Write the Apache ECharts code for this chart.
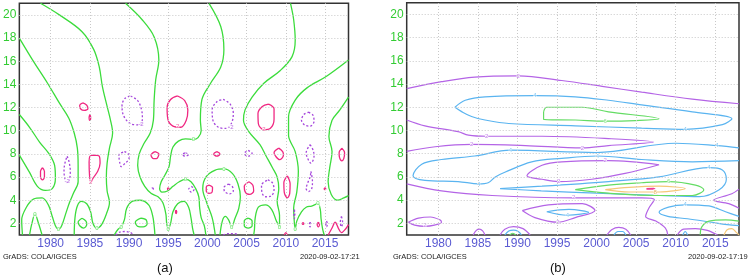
<!DOCTYPE html>
<html><head><meta charset="utf-8">
<script src="https://cdn.jsdelivr.net/npm/echarts@6/dist/echarts.min.js"></script>
<style>html,body{margin:0;padding:0;background:#fff}#c{width:749px;height:279px}</style>
</head><body><div id="c"></div>
<script>
// ---------- ticks ----------
const yearTicks = [1980, 1985, 1990, 1995, 2000, 2005, 2010, 2015];
const periodTicks = [2, 4, 6, 8, 10, 12, 14, 16, 18, 20];

// ---------- panel (a): zero contours (green) ----------
const a0_1 = [[1976,18],[1977.7,16.1],[1979.6,14.1],[1981.1,12.4],[1982.3,11.1],[1983,9.8],[1983.4,8.5],[1983.5,7],[1983.5,5.6],[1982.9,4.6],[1982.4,3.8],[1981.9,2.8],[1981.4,1.8],[1981,1.5],[1980.6,1.8],[1980.2,2.6],[1979.7,3.6],[1978.9,4.2],[1977.8,4.1],[1976.9,3.4],[1976.3,2.3],[1976.4,1]];
const a0_2 = [[1976,11.4],[1977.3,10.3],[1978.6,9],[1979.8,8],[1980.5,7],[1980.6,5.9],[1980.2,5.0],[1979.3,4.85],[1978.3,5.2],[1977.3,6.4],[1976,7.9]];
const a0_3 = [[1977.3,1],[1977.6,2.0],[1978,2.8],[1978.4,2.1],[1978.9,1]];
const a0_4 = [[1978.7,21],[1981.1,20],[1984,18.55],[1985.5,17],[1986.2,15.5],[1986.6,13.8],[1987.2,12.1],[1987.6,11],[1987.9,9.8],[1987.5,8.5],[1987.2,7.2],[1987.1,6],[1987.2,4.8],[1987.5,3.8],[1987.1,2.8],[1986.5,1.9],[1985.9,1.6],[1985.4,2],[1985.1,3],[1984.6,3.7],[1983.9,3.9],[1983.4,3.5],[1983.1,2.5],[1983,1]];
const a0_5 = [[1984,2.45],[1984.5,2.2],[1984.6,1.9],[1984.2,1.6],[1983.7,1.8],[1983.5,2.1],[1984,2.45]];
const a0_6 = [[1988.1,1],[1988.6,1.5],[1989,1.7],[1989.4,2.3],[1989.7,3.3],[1990.4,3.9],[1991.4,4.0],[1992.5,3.6],[1993,2.7],[1993.2,1.8],[1993.3,1]];
const a0_7 = [[1991.5,2.45],[1992.2,2.3],[1992.3,1.95],[1991.8,1.7],[1991.1,1.75],[1990.8,2.1],[1991.5,2.45]];
const a0_8 = [[1989.55,21],[1991.7,19.56],[1993.2,18.1],[1993.8,16.1],[1993.4,14.4],[1993.2,12.65],[1993.1,10.9],[1992.7,9.8],[1991.9,8.9],[1991.3,8.0],[1991.1,7.0],[1991.4,6.0],[1992,5.2],[1992.8,4.6],[1993.7,4.3],[1994.3,3.8],[1994.7,2.8],[1994.8,2.0],[1995,1.5],[1995.3,2.0],[1995.6,3],[1996.2,3.7],[1997,3.9],[1997.6,3.4],[1997.9,2.5],[1998.1,1.6],[1998.3,1]];
const a0_9 = [[2000.2,21],[2001.7,19],[2002.1,17],[2001.7,15.5],[2000.4,14.1],[1999.3,12.7],[1999.1,10.9],[1999.2,10],[1998.8,9.4],[1998.2,9.25],[1997.2,9.3],[1996.3,9.1],[1995.6,8.6],[1995.3,7.8],[1995.1,6.9],[1994.6,6.2],[1994.1,5.6],[1993.9,5.0],[1994.2,4.7],[1994.9,4.8],[1995.6,5.2],[1996.4,5.6],[1997.2,5.8],[1997.9,5.6],[1998.5,5.0],[1998.9,4.3],[1999.0,3.4],[1999.2,2.5],[1999.6,1.8],[1999.8,1]];
const a0_10 = [[2001.0,1],[2000.6,2.5],[1999.9,3.8],[1999.4,5.0],[1999.8,6.0],[2001.0,6.6],[2002.1,6.7],[2003.2,6.3],[2003.9,5.4],[2004.2,4.3],[2004.0,3.3],[2003.5,2.4],[2003.1,1.7],[2002.7,2.3],[2002.3,2.6],[2001.9,2.2],[2001.6,1]];
const a0_11 = [[2010.6,21],[2011,19.6],[2011.2,17.8],[2010.8,16.4],[2009.3,15.2],[2007.2,14.1],[2005.7,12.9],[2004.8,11.8],[2004.6,10.9],[2005.3,9.9],[2006.7,8.8],[2007.5,7.8],[2008.3,6.8],[2008.9,6.0],[2009.1,5.0],[2008.9,3.9],[2009.2,2.7],[2009.2,1.7],[2008.8,2.2],[2008.2,3.2],[2007.4,3.6],[2006.5,3.4],[2006.1,2.5],[2006,1.5],[2005.9,1]];
const a0_12 = [[2005.2,2.45],[2005.7,2.2],[2005.7,1.8],[2005.2,1.6],[2004.7,1.8],[2004.7,2.2],[2005.2,2.45]];
const a0_13 = [[2018,16.1],[2015.2,14.7],[2012.7,13.7],[2011.2,12.65],[2010.35,11.2],[2010.35,9.6],[2011.2,8.2],[2011.6,6.5],[2011.4,4.7],[2011.0,3.3],[2011.1,2.0],[2011.2,1.45],[2011.4,2.2],[2012,3.0],[2012.6,3.4],[2013.3,3.5],[2014.1,3.7],[2014.4,3.2],[2014.5,2.4],[2014.7,1.5],[2014.9,1]];
const a0_14 = [[2018,12.9],[2016.9,11.8],[2015.9,10.9],[2015.5,9.5],[2015.9,8.2],[2015.6,6.8],[2015.4,5.6],[2015.8,4.5],[2016.6,4.0],[2017.4,4.2],[2018,4.4]];

// ---------- panel (a): +2 contours (pink) ----------
const ap_1 = [[1978.95,6.8],[1979.2,6.5],[1979.2,6.0],[1978.95,5.75],[1978.7,6.0],[1978.7,6.5],[1978.95,6.8]];
const ap_2 = [[1984.1,12.4],[1984.6,12.2],[1984.75,11.9],[1984.3,11.75],[1983.8,11.9],[1983.7,12.2],[1984.1,12.4]];
const ap_3 = [[1985,11.4],[1985.1,11.15],[1985,10.9],[1984.9,11.15],[1985,11.4]];
const ap_4 = [[1985.5,7.9],[1986.2,7.8],[1986.3,7.2],[1986,6.5],[1985.4,5.9],[1985.1,5.5],[1984.95,6.2],[1984.9,7.3],[1985,7.8],[1985.5,7.9]];
const ap_5 = [[1993.3,8.2],[1993.8,8.0],[1993.5,7.6],[1993.1,7.6],[1992.8,7.9],[1993.3,8.2]];
const ap_6 = [[1996.2,13.0],[1997.1,12.6],[1997.5,11.8],[1997.3,10.9],[1996.6,10.3],[1995.6,10.4],[1994.95,11.0],[1994.85,12.0],[1995.3,12.7],[1996.2,13.0]];
const ap_7 = [[2001.2,8.2],[2001.6,8.0],[2001.2,7.8],[2000.8,8.0],[2001.2,8.2]];
const ap_8 = [[2009.1,8.5],[2009.6,8.2],[2009.7,7.9],[2009.2,7.5],[2008.7,7.8],[2008.5,8.1],[2009.1,8.5]];
const ap_9 = [[2017.15,8.5],[2017.5,8.1],[2017.4,7.6],[2017.15,7.4],[2016.85,7.7],[2016.8,8.1],[2017.15,8.5]];
const ap_10 = [[2000.2,5.3],[2000.65,5.1],[2000.6,4.7],[2000.2,4.6],[1999.85,4.8],[1999.85,5.15],[2000.2,5.3]];
const ap_11 = [[2005.3,5.6],[2005.8,5.3],[2005.9,4.8],[2005.4,4.5],[2004.8,4.75],[2004.7,5.2],[2005.3,5.6]];
const ap_12 = [[2010.2,6.1],[2010.55,5.4],[2010.5,4.6],[2010.2,4.2],[2009.8,4.7],[2009.75,5.5],[2010.2,6.1]];
const ap_13 = [[2007.8,12.3],[2008.5,11.9],[2008.5,11.0],[2008.0,10.2],[2007.2,10.1],[2006.5,10.6],[2006.45,11.5],[2007,12.1],[2007.8,12.3]];
const ap_14 = [[1995,5.08],[1995.1,5],[1995,4.92],[1994.9,5],[1995,5.08]];
const ap_15 = [[2015,5.08],[2015.1,5],[2015,4.92],[2014.9,5],[2015,5.08]];
const ap_16 = [[1996,3.15],[1996.08,3],[1996,2.85],[1995.92,3],[1996,3.15]];
const ap_17 = [[2012.2,2.08],[2012.3,2],[2012.2,1.92],[2012.1,2],[2012.2,2.08]];
const ap_18 = [[2014.15,2.1],[2014.3,1.9],[2014.15,1.7],[2014,1.9],[2014.15,2.1]];
const ap_19 = [[2015.4,1.0],[2015.9,1.6],[2016.3,2.1],[2016.7,1.6],[2017.1,1.2],[2017.6,1.5],[2018,1.9]];
const ap_20 = [[2009.8,1],[2010,1.2],[2010.2,1]];

// ---------- panel (a): -2 contours (purple, dashed) ----------
const an_1 = [[1982.1,7.8],[1982.35,7.3],[1982.5,6.5],[1982.4,5.8],[1982.1,5.5],[1981.8,5.9],[1981.7,6.6],[1981.85,7.3],[1982.1,7.8]];
const an_2 = [[1990.2,13.0],[1991.1,12.6],[1991.6,11.8],[1991.7,11.0],[1991.3,10.5],[1990.2,10.6],[1989.3,11.3],[1989.1,12.2],[1989.5,12.8],[1990.2,13.0]];
const an_3 = [[2002,12.7],[2002.9,12.3],[2003.3,11.5],[2003.1,10.7],[2002.4,10.2],[2001.4,10.3],[2000.7,10.9],[2000.6,11.8],[2001.2,12.5],[2002,12.7]];
const an_4 = [[2012.9,11.6],[2013.5,11.3],[2013.6,10.8],[2013.1,10.4],[2012.4,10.5],[2012.0,10.9],[2012.3,11.4],[2012.9,11.6]];
const an_5 = [[1989.4,8.2],[1989.9,8.0],[1990,7.6],[1989.5,7.2],[1989.0,6.9],[1988.8,7.3],[1988.7,7.9],[1989.4,8.2]];
const an_6 = [[1997.2,8.1],[1997.6,7.95],[1997.2,7.8],[1996.8,7.95],[1997.2,8.1]];
const an_7 = [[2005.2,8.3],[2005.7,8.05],[2005.2,7.8],[2004.7,8.05],[2005.2,8.3]];
const an_8 = [[2013.1,8.8],[2013.5,8.3],[2013.6,7.8],[2013.2,7.2],[2012.8,7.6],[2012.6,8.1],[2013.1,8.8]];
const an_9 = [[1997.95,5.2],[1998.3,4.95],[1997.95,4.7],[1997.6,4.95],[1997.95,5.2]];
const an_10 = [[2002.7,5.4],[2003.2,5.15],[2003.3,4.8],[2002.8,4.55],[2002.2,4.75],[2002.1,5.1],[2002.7,5.4]];
const an_11 = [[2007.7,5.75],[2008.3,5.5],[2008.5,4.9],[2008.1,4.35],[2007.4,4.3],[2006.95,4.7],[2006.9,5.3],[2007.7,5.75]];
const an_12 = [[2013.2,6.5],[2013.4,5.6],[2013.3,5.0],[2012.9,4.75],[2012.6,5.0],[2012.8,5.5],[2013.1,6.0],[2013.2,6.5]];
const an_13 = [[1993,5.08],[1993.1,5],[1993,4.92],[1992.9,5],[1993,5.08]];
const an_14 = [[2011.1,3.2],[2011.15,2.8],[2011.1,2.4],[2011.05,2.8],[2011.1,3.2]];
const an_15 = [[2013.1,2.1],[2013.2,1.9],[2013.1,1.7],[2013.0,1.9],[2013.1,2.1]];
const an_16 = [[2015.2,2.2],[2015.3,1.95],[2015.2,1.7],[2015.1,1.95],[2015.2,2.2]];
const an_17 = [[2017.1,2.6],[2017.25,2.1],[2017.1,1.7],[2016.95,2.1],[2017.1,2.6]];
const an_18 = [[1988.3,1],[1988.8,1.25],[1989.5,1.3],[1990.2,1.2],[1990.6,1]];
const an_19 = [[2002,1],[2002.6,1.12],[2003.4,1.12],[2004,1]];

// ---------- panel (b) contours ----------
const b2_1 = [[1976,13.6],[1980.4,14.2],[1984.6,14.6],[1990.1,14.7],[1995.6,14.3],[2000.7,13.8],[2005.7,13.3],[2012.1,12.7],[2018,12.3]];
const b2_2 = [[1976,10.9],[1978.3,10.4],[1982.5,9.9],[1983.8,9.6],[1986.1,9.5],[1993.1,9.5],[2001.5,9.3],[2007.2,9.0],[2001.5,8.7],[1998.2,8.5],[1991,8.7],[1984.2,8.8],[1979.6,8.6],[1976,8.2]];
const b2_3 = [[2007.9,7.05],[2001.5,7.4],[1995.6,7.3],[1993.1,7.0],[1991.2,6.1],[1993.1,5.8],[1995.2,5.6],[1999.4,5.8],[2003.6,6.3],[2007.9,7.05]];
const b2_4 = [[1976,5.4],[1980.4,4.8],[1986.8,4.4],[1997.1,4.2],[2005.7,4.2],[2007.3,4.05],[2006.6,3.3],[2006.2,2.6],[2007.5,2.2],[2008.7,1.6],[2009,1]];
const b2_5 = [[1990.6,3.1],[1993.9,3.6],[1998.2,3.7],[1999.8,3.1],[1997.3,2.5],[1995.1,2.1],[1992.2,2.5],[1990.6,3.1]];
const b2_6 = [[1976.2,2.1],[1977.5,2.45],[1979,2.55],[1980.2,2.3],[1980.4,2.1],[1979.5,1.85],[1978.3,1.75],[1977,1.85],[1976.2,2.1]];
const b2_7 = [[1984.4,1],[1984.8,1.4],[1985.2,1.5],[1985.6,1.35],[1985.9,1]];
const b2_8 = [[1987.8,1],[1988.4,1.5],[1989.5,1.72],[1990.7,1.55],[1991.6,1]];
const b2_9 = [[2001.3,1],[2001.9,1.45],[2002.8,1.65],[2003.7,1.5],[2004.3,1]];
const b2_10 = [[2018,4.95],[2017.1,4.55],[2014.8,4.0],[2016.7,3.7],[2018,3.3]];
const b2_11 = [[2010.2,1],[2011,1.5],[2012.5,1.55],[2014,1.4],[2015,1.1],[2015.3,1]];
const b4_1 = [[1982.1,12.0],[1983.4,12.6],[1985.9,12.9],[1992.2,13.0],[1997.3,12.9],[2001.5,12.6],[2005.7,12.2],[2012.1,11.6],[2017.1,11.0],[2015.9,10.5],[2011.2,10.1],[2005.7,10.2],[1997.3,10.4],[1988.9,10.6],[1985.9,10.9],[1984.2,11.2],[1983,11.6],[1982.1,12.0]];
const b4_2 = [[2018,8.5],[2015.2,8.7],[2010,8.9],[2000,8.1],[1989.1,8.3],[1984.6,7.8],[1980.4,7.5],[1977.9,7.1],[1976.8,6.1],[1978.3,5.7],[1982.5,5.6],[1985.1,5.4],[1986.3,5.5],[1987.2,6.0],[1988.4,6.4],[1991.8,7.3],[1995.6,7.6],[2000.1,7.8],[2005.7,7.5],[2012.1,7.3],[2018,7.4]];
const b4_3 = [[1987.8,5.0],[1993.1,5.2],[2001.5,5.6],[2007.9,6.0],[2014.2,6.8],[2015.9,6.6],[2016.4,5.8],[2015.5,4.9],[2013,4.3],[2008,4.4],[2000,4.6],[1993,4.8],[1987.8,5.0]];
const b4_4 = [[1993.7,3.0],[1996.5,3.2],[1999,2.95],[1996.3,2.7],[1993.7,3.0]];
const b4_5 = [[1988.4,1],[1988.9,1.35],[1989.5,1.42],[1990.1,1.3],[1990.5,1]];
const b4_6 = [[2002.2,1],[2002.7,1.3],[2003.3,1.3],[2003.7,1]];
const b4_7 = [[2018,2.6],[2016.3,3.0],[2014.2,3.5],[2011.2,3.6],[2009.1,3.4],[2007.9,2.95],[2009,2.6],[2011.5,2.4],[2014.5,2.1],[2016.5,1.9],[2018,1.8]];
const b4_8 = [[2010.9,1],[2011.2,1.3],[2011.5,1]];
const b6_1 = [[1993.3,11.6],[1993.7,12.0],[1998.2,12.0],[2001.5,11.6],[2007.9,11.0],[2004.9,10.85],[2001.1,10.8],[1997.3,10.9],[1993.3,10.95],[1993.3,11.6]];
const b6_2 = [[1997.3,4.9],[2001.5,5.3],[2005.7,5.5],[2009.1,5.6],[2012.5,5.3],[2013.55,4.9],[2012.1,4.4],[2007.9,4.4],[2001.5,4.6],[1997.3,4.9]];
const b6_3 = [[1989,1],[1989.4,1.15],[1989.8,1]];
const b6_4 = [[2013.1,1],[2013.3,1.7],[2014.2,2.2],[2016.3,2.3],[2018,2.2]];
const b8_1 = [[2001.1,4.9],[2004.1,5.1],[2007.9,5.2],[2011.2,5.0],[2007.9,4.7],[2004.1,4.7],[2001.1,4.9]];
const b8_2 = [[2016.1,1],[2016.5,1.45],[2017.1,1.55],[2017.7,1.2],[2018,1]];
const b10_1 = [[2006.3,5.0],[2007.2,5.02],[2007.4,4.95],[2006.3,4.95]];

// contour labels
const aLabels0 = [[1998.2,9.25,'0'],[2002.1,6.7,'0'],[1997.2,5.8,'0'],[1978,2.8,'0'],[1981,1.5,'0'],[1985.9,1.6,'0'],[1989,1.7,'0'],[1995,1.5,'0'],[2003.1,1.7,'0'],[2009.2,1.7,'0'],[2011.2,1.45,'0'],[2014.1,3.7,'0']];
const aLabelsN = [[1982.1,5.6,'-2'],[1991.5,10.55,'-2'],[2003,10.3,'-2']];
const aLabelsP = [[1996.2,10.35,'2'],[1985.1,5.55,'2'],[2007.2,10.15,'2']];
const bLabels2 = [[1990.1,14.7,'2'],[1986.1,9.5,'2'],[1984.2,8.8,'2'],[1998.2,8.5,'2'],[2001.1,7.4,'2'],[1995.2,5.6,'2'],[1997.1,4.2,'2'],[1995.1,2.1,'2'],[1978.3,1.8,'2']];
const bLabels4 = [[1992.2,13.0,'4'],[2011.2,10.1,'4'],[1989.1,8.3,'4'],[2015.2,8.7,'4'],[2000.1,7.8,'4'],[1985.1,5.4,'4'],[2014.2,6.8,'4'],[2011.2,3.6,'4'],[1996.3,2.7,'4']];
const bLabels6 = [[2001.1,10.8,'6'],[2009.1,5.6,'6']];
const bLabels8 = [[2007.4,4.7,'8']];

// ---------- build ----------
const GA = '#3cdc3c', PK = '#f02882', PU = '#a546dc';
const BP = '#b464e6', BB = '#5ab4f0', BG = '#64dc64', BO = '#f5c878', BR = '#f03c96';
const series = [];
function add(data, gi, color, dashed, w) {
  series.push({type:'line', xAxisIndex:gi, yAxisIndex:gi, data:data, symbol:'none', smooth:0.35,
    lineStyle:{color:color, width:w||1.3, type: dashed ? [2,2] : 'solid'}, silent:true, animation:false, z:3});
}
function labels(arr, gi, color) {
  series.push({type:'scatter', xAxisIndex:gi, yAxisIndex:gi, symbol:'circle', symbolSize:1, silent:true, animation:false, z:4,
    itemStyle:{color:'rgba(0,0,0,0)'},
    data: arr.map(d => ({value:[d[0], d[1]], name:d[2]})),
    label:{show:true, position:'inside', formatter:p=>p.name, fontSize:6, color:color, backgroundColor:'#fff', padding:[0,0], fontFamily:'Liberation Sans'}});
}
function grid(gi) {
  series.push({type:'line', xAxisIndex:gi, yAxisIndex:gi, data:[], silent:true, animation:false, z:1,
    markLine:{silent:true, symbol:['none','none'], label:{show:false}, animation:false,
      lineStyle:{color:'#c8c8c8', width:1, type:[1,2]},
      data: yearTicks.map(v=>({xAxis:v})).concat(periodTicks.map(v=>({yAxis:v})))}});
}
grid(0); grid(1);
[a0_1,a0_2,a0_3,a0_4,a0_5,a0_6,a0_7,a0_8,a0_9,a0_10,a0_11,a0_12,a0_13,a0_14].forEach(d=>add(d,0,GA,false));
[ap_1,ap_2,ap_3,ap_4,ap_5,ap_6,ap_7,ap_8,ap_9,ap_10,ap_11,ap_12,ap_13,ap_14,ap_15,ap_16,ap_17,ap_18,ap_19,ap_20].forEach(d=>add(d,0,PK,false));
[an_1,an_2,an_3,an_4,an_5,an_6,an_7,an_8,an_9,an_10,an_11,an_12,an_13,an_14,an_15,an_16,an_17,an_18,an_19].forEach(d=>add(d,0,PU,true));
[b2_1,b2_2,b2_3,b2_4,b2_5,b2_6,b2_7,b2_8,b2_9,b2_10,b2_11].forEach(d=>add(d,1,BP,false,1.2));
[b4_1,b4_2,b4_3,b4_4,b4_5,b4_6,b4_7,b4_8].forEach(d=>add(d,1,BB,false,1.2));
[b6_1,b6_2,b6_3,b6_4].forEach(d=>add(d,1,BG,false,1.2));
[b8_1,b8_2].forEach(d=>add(d,1,BO,false,1.2));
[b10_1].forEach(d=>add(d,1,BR,false,1.2));
labels(aLabels0,0,GA); labels(aLabelsN,0,PU); labels(aLabelsP,0,PK);
labels(bLabels2,1,BP); labels(bLabels4,1,BB); labels(bLabels6,1,BG); labels(bLabels8,1,'#e0a040');

function xAx(gi){return {gridIndex:gi, type:'value', min:1976, max:2018, axisLine:{show:false}, axisTick:{show:false}, splitLine:{show:false},
  axisLabel:{customValues:yearTicks, formatter:v=>String(v), color:'#5a5ad2', fontSize:12, margin:3, fontFamily:'Liberation Sans, Arial'}};}
function yAx(gi){return {gridIndex:gi, type:'value', min:1, max:21, axisLine:{show:false}, axisTick:{show:false}, splitLine:{show:false},
  axisLabel:{customValues:periodTicks, formatter:v=>String(v), color:'#33cc33', fontSize:12, margin:3, fontFamily:'Liberation Sans, Arial'}};}

const chart = echarts.init(document.getElementById('c'), null, {renderer:'canvas'});
chart.setOption({
  animation:false,
  grid:[
    {left:18.5, top:3.3, width:330, height:231.7, show:true, borderColor:'#333', borderWidth:1.5, backgroundColor:'#fff'},
    {left:406.7, top:2.7, width:332.3, height:232.3, show:true, borderColor:'#333', borderWidth:1.5, backgroundColor:'#fff'}
  ],
  xAxis:[xAx(0), xAx(1)],
  yAxis:[yAx(0), yAx(1)],
  series: series,
  graphic:[
    {type:'text', left:3, top:253, style:{text:'GrADS: COLA/IGCES', font:'7.5px "Liberation Sans", Arial', fill:'#222'}},
    {type:'text', left:300, top:253, style:{text:'2020-09-02-17:21', font:'7.5px "Liberation Sans", Arial', fill:'#222'}},
    {type:'text', left:393, top:253, style:{text:'GrADS: COLA/IGCES', font:'7.5px "Liberation Sans", Arial', fill:'#222'}},
    {type:'text', left:688, top:253, style:{text:'2020-09-02-17:19', font:'7.5px "Liberation Sans", Arial', fill:'#222'}},
    {type:'text', left:157, top:262, style:{text:'(a)', font:'13px "Liberation Sans", Arial', fill:'#111'}},
    {type:'text', left:550, top:262, style:{text:'(b)', font:'13px "Liberation Sans", Arial', fill:'#111'}}
  ]
});
</script></body></html>
